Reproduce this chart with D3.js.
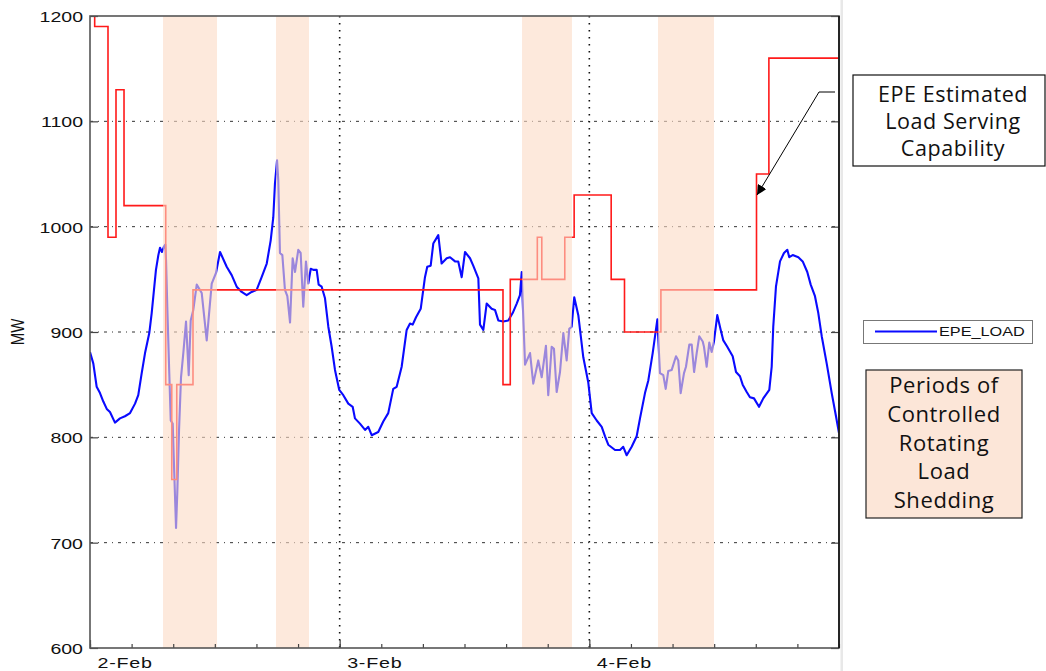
<!DOCTYPE html>
<html>
<head>
<meta charset="utf-8">
<script src="https://cdn.jsdelivr.net/npm/d3@7"></script>
<style>
  html, body { margin: 0; padding: 0; background: #fff; }
  svg { display: block; }
</style>
</head>
<body>
<svg id="chart" width="1046" height="671"></svg>
<script>
// ---------------- DATA ----------------
// hours since 2-Feb 00:00
const loadHours = [0.00,0.32,0.64,0.96,1.28,1.61,1.92,2.40,2.88,3.36,3.85,4.33,4.64,4.97,5.29,5.70,5.93,6.15,6.34,6.57,6.73,6.92,7.11,7.24,7.31,7.43,7.62,7.76,7.95,8.10,8.27,8.39,8.56,8.75,8.97,9.23,9.49,9.68,9.93,10.26,10.74,11.22,11.70,12.11,12.50,13.14,13.62,14.10,14.58,15.06,15.54,16.02,16.50,16.99,17.37,17.62,17.78,17.98,18.10,18.26,18.49,18.74,18.97,19.23,19.48,19.71,20.02,20.25,20.50,20.76,20.98,21.22,21.47,21.79,21.98,22.27,22.59,22.91,23.23,23.55,23.96,24.35,24.83,25.25,25.47,25.95,26.44,26.75,27.08,27.71,28.19,28.67,29.15,29.48,29.96,30.44,30.76,31.02,31.34,31.79,32.20,32.42,32.75,33.00,33.48,33.80,34.29,34.61,35.09,35.40,35.73,36.05,36.53,36.84,37.33,37.49,37.81,38.13,38.61,38.93,39.25,39.73,40.21,40.63,41.02,41.33,41.50,41.59,41.82,42.30,42.61,43.09,43.42,43.83,44.05,44.38,44.60,44.86,45.18,45.50,45.82,46.07,46.30,46.55,46.94,47.42,47.90,48.23,48.71,49.19,49.51,49.82,50.47,50.95,51.26,51.59,52.07,52.55,52.87,53.35,53.67,54.09,54.54,54.79,55.11,55.34,55.59,55.92,56.33,56.55,56.78,57.10,57.29,57.61,57.84,58.07,58.32,58.57,58.90,59.02,59.28,59.53,59.76,59.98,60.30,60.63,60.88,61.26,61.78,62.10,62.48,62.74,63.13,63.44,63.83,64.31,64.72,65.30,65.53,65.68,65.94,66.33,66.71,67.03,67.22,67.55,68.09,68.51,68.95,69.28,69.69,70.01,70.34,70.82,71.30,71.71,72.00];
const loadMW = [881,870,848,842,834,827,824,814,818,820,823,832,840,861,880,899,918,940,959,973,980,976,981,983,968,924,861,816,813,766,714,747,807,857,880,910,859,911,921,945,937,892,946,956,976,962,954,943,938,935,938,940,952,965,987,1009,1041,1063,1044,975,973,940,934,909,970,957,978,975,924,967,946,960,959,959,945,943,932,905,886,864,845,840,832,829,818,813,807,810,802,805,815,823,846,848,867,902,908,907,914,922,952,962,963,984,992,965,970,971,967,967,952,976,970,963,951,907,902,927,922,921,911,910,911,918,927,935,957,930,869,880,851,873,857,887,840,886,884,843,862,899,873,903,905,933,916,876,852,823,816,810,801,793,788,788,791,783,791,801,818,842,854,880,912,861,859,846,863,864,877,873,842,861,867,888,888,862,880,896,891,886,867,890,881,891,916,902,892,886,877,862,858,850,843,838,837,829,837,845,867,905,943,967,975,978,971,973,971,967,957,945,934,918,896,870,842,820,804];

// EPE estimated load serving capability (step changes)
const capHours = [0.00,0.45,1.73,2.50,3.27,7.28,7.86,8.34,9.90,39.70,40.40,43.00,43.43,45.64,46.54,50.10,51.38,54.88,64.07,65.26,72.00];
const capMW    = [1200,1190,990,1130,1020,850,760,850,940,850,950,990,950,990,1030,950,900,940,1050,1160,1160];

// controlled rotating load shedding periods (hours since 2-Feb 00:00)
const shedStart = [7.02, 17.88, 41.53, 54.60];
const shedEnd   = [12.21, 21.05, 46.33, 59.98];

const yTicks = [600,700,800,900,1000,1100,1200];
const dayLabels = ["2-Feb","3-Feb","4-Feb"];
const seriesName = "EPE_LOAD";
const noteCapability = ["EPE Estimated","Load Serving","Capability"];
const noteShedding = ["Periods of","Controlled","Rotating","Load","Shedding"];

// ---------------- CHART ----------------
const start = new Date(2011, 1, 2, 0, 0);
const toDate = h => new Date(start.getTime() + h * 3600 * 1000);

const L = 90, R = 839, T = 16, B = 648;
const svg = d3.select("#chart");

const x = d3.scaleTime().domain([toDate(0), toDate(72)]).range([L, R]);
const y = d3.scaleLinear().domain([600, 1200]).range([B, T]);

svg.append("defs").append("clipPath").attr("id", "plotclip")
  .append("rect").attr("x", L).attr("y", T).attr("width", R - L).attr("height", B - T);

// horizontal grid (dash-dot)
svg.append("g").selectAll("line").data(yTicks.filter(v => v > 600 && v < 1200)).join("line")
  .attr("x1", L).attr("x2", R).attr("y1", d => y(d)).attr("y2", d => y(d))
  .attr("stroke", "#333").attr("stroke-width", 1).attr("stroke-dasharray", "3,5,1,5");

// vertical grid at day boundaries (dotted)
const dayDates = [toDate(24), toDate(48)];
svg.append("g").selectAll("line").data(dayDates).join("line")
  .attr("x1", d => x(d)).attr("x2", d => x(d)).attr("y1", T).attr("y2", B)
  .attr("stroke", "#111").attr("stroke-width", 1.6).attr("stroke-dasharray", "1.6,5.4");

const plot = svg.append("g").attr("clip-path", "url(#plotclip)");

// load line
const loadData = loadHours.map((h, i) => ({ t: toDate(h), v: loadMW[i] }));
plot.append("path").datum(loadData)
  .attr("fill", "none").attr("stroke", "#0a0aff").attr("stroke-width", 2.1)
  .attr("stroke-linejoin", "round")
  .attr("d", d3.line().x(d => x(d.t)).y(d => y(d.v)));

// capability step line
const capData = capHours.map((h, i) => ({ t: toDate(h), v: capMW[i] }));
plot.append("path").datum(capData)
  .attr("fill", "none").attr("stroke", "#ff1a1a").attr("stroke-width", 1.6)
  .attr("d", d3.line().curve(d3.curveStepAfter).x(d => x(d.t)).y(d => y(d.v)));

// shedding bands overlay (semi-transparent, above lines)
const bands = shedStart.map((s, i) => ({ s: toDate(s), e: toDate(shedEnd[i]) }));
plot.append("g").selectAll("rect").data(bands).join("rect")
  .attr("x", d => x(d.s)).attr("width", d => x(d.e) - x(d.s))
  .attr("y", T).attr("height", B - T)
  .attr("fill", "rgb(252,218,197)").attr("fill-opacity", 0.6);

// axes
const yAxisL = d3.axisLeft(y).tickValues(yTicks).tickSize(-8).tickFormat(d3.format("d"));
const gyl = svg.append("g").attr("transform", `translate(${L},0)`).call(yAxisL);
const yAxisR = d3.axisRight(y).tickValues(yTicks).tickSize(-8).tickFormat("");
const gyr = svg.append("g").attr("transform", `translate(${R},0)`).call(yAxisR);
const xAxisMinor = d3.axisBottom(x).ticks(d3.timeHour.every(4)).tickSize(-4).tickFormat("");
const gxm = svg.append("g").attr("transform", `translate(0,${B})`).call(xAxisMinor);
const xAxisMajor = d3.axisBottom(x).tickValues([toDate(0), toDate(24), toDate(48)]).tickSize(-8)
  .tickFormat((d, i) => dayLabels[i]);
const gx = svg.append("g").attr("transform", `translate(0,${B})`).call(xAxisMajor);

[gyl, gyr, gxm, gx].forEach(g => {
  g.select(".domain").remove();
  g.selectAll(".tick line").attr("stroke", "#444").attr("stroke-width", 1.2);
});
gyl.selectAll(".tick text")
  .attr("font-family", "Liberation Sans, Arial, sans-serif").attr("font-size", 15.5).attr("fill", "#111")
  .attr("x", 0).attr("dx", null).attr("text-anchor", "end").attr("dy", "0.36em")
  .attr("transform", "translate(-7,0) scale(1.26,1)");
gx.selectAll(".tick text")
  .attr("font-family", "Liberation Sans, Arial, sans-serif").attr("font-size", 15.5).attr("fill", "#111")
  .attr("text-anchor", "start").attr("y", 0).attr("dy", null)
  .attr("transform", "translate(7,20) scale(1.27,1)")
  .attr("letter-spacing", 0.6);

// frame
svg.append("rect").attr("x", L).attr("y", T).attr("width", R - L).attr("height", B - T)
  .attr("fill", "none").attr("stroke", "#555").attr("stroke-width", 1.6);
svg.append("line").attr("x1", R).attr("x2", R).attr("y1", T).attr("y2", B)
  .attr("stroke", "#111").attr("stroke-width", 1.6);
svg.append("rect").attr("x", R + 1.5).attr("y", 0).attr("width", 2.5).attr("height", 671).attr("fill", "#e8e8e8");

// y label
svg.append("text").attr("transform", `translate(24,${(T + B) / 2}) scale(1.25,1) rotate(-90)`)
  .attr("text-anchor", "middle").attr("font-family", "Liberation Sans, Arial, sans-serif")
  .attr("font-size", 15).attr("fill", "#111").text("MW");

// legend
const lg = svg.append("g");
lg.append("rect").attr("x", 863.5).attr("y", 320.5).attr("width", 169).attr("height", 23)
  .attr("fill", "#fff").attr("stroke", "#777").attr("stroke-width", 1);
lg.append("line").attr("x1", 875).attr("x2", 937).attr("y1", 331.5).attr("y2", 331.5)
  .attr("stroke", "#0a0aff").attr("stroke-width", 2);
lg.append("text").attr("transform", "translate(939,336) scale(1.3,1)")
  .attr("font-family", "Liberation Sans, Arial, sans-serif").attr("font-size", 12.5).attr("fill", "#111")
  .text(seriesName);

// capability note + arrow
const nb = svg.append("g");
nb.append("rect").attr("x", 853).attr("y", 75).attr("width", 192).attr("height", 91)
  .attr("fill", "#fff").attr("stroke", "#111").attr("stroke-width", 1.2);
nb.selectAll("text").data(noteCapability).join("text")
  .attr("x", 953).attr("y", (d, i) => 102 + i * 27)
  .attr("text-anchor", "middle").attr("font-family", "Open Sans, sans-serif")
  .attr("font-size", 21.5).attr("letter-spacing", 0.6).attr("fill", "#111").text(d => d);

const arrowTip = [x(toDate(64.07)), y(1030)];
svg.append("defs").append("marker").attr("id", "ah").attr("viewBox", "0 0 10 10")
  .attr("refX", 10).attr("refY", 5).attr("markerWidth", 10).attr("markerHeight", 10)
  .attr("markerUnits", "userSpaceOnUse").attr("orient", "auto")
  .append("path").attr("d", "M0,0 L10,5 L0,10 Z").attr("fill", "#000");
svg.append("path")
  .attr("d", `M835,92 L819,92 L${arrowTip[0] + 0.5},${arrowTip[1]}`)
  .attr("fill", "none").attr("stroke", "#000").attr("stroke-width", 1)
  .attr("marker-end", "url(#ah)");

// shedding note
const sb = svg.append("g");
sb.append("rect").attr("x", 866).attr("y", 370).attr("width", 156).attr("height", 148)
  .attr("fill", "#fce6d8").attr("stroke", "#222").attr("stroke-width", 1.2);
sb.selectAll("text").data(noteShedding).join("text")
  .attr("x", 944).attr("y", (d, i) => 393 + i * 28.8)
  .attr("text-anchor", "middle").attr("font-family", "Open Sans, sans-serif")
  .attr("font-size", 22).attr("letter-spacing", 0.6).attr("fill", "#111").text(d => d);
</script>
</body>
</html>
